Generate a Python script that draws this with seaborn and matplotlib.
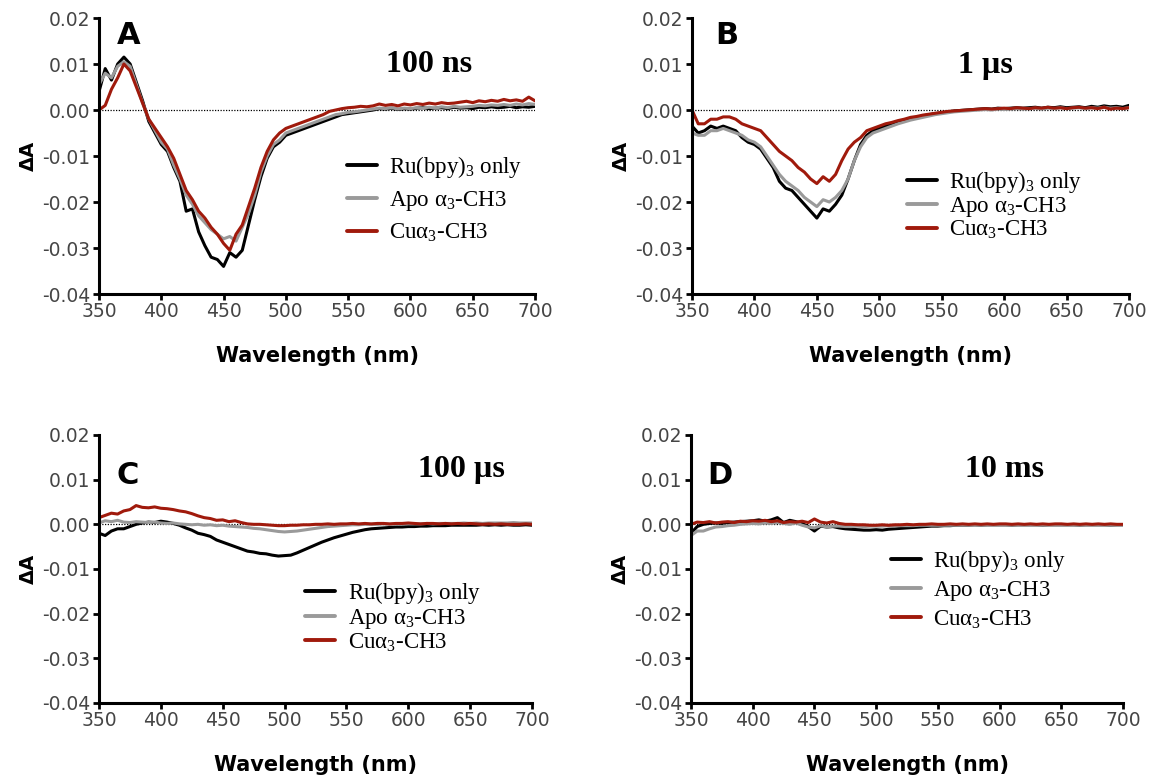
import numpy as np
import pandas as pd
import matplotlib
matplotlib.use("Agg")
import matplotlib.pyplot as plt
import seaborn as sns

# wavelengths (nm), 5 nm grid
wavelength = list(range(350, 701, 5))

# Delta A values, in units of 1e-3
# Panel A - 100 ns
ru_A = [4.0, 9.0, 6.5, 10.0, 11.5, 10.0, 6.0, 2.0, -2.5, -5.0, -7.5, -9.0, -12.5, -15.5, -22.0, -21.5,
        -26.5, -29.5, -32.0, -32.5, -34.0, -31.0, -32.0, -30.5, -25.0, -19.5, -14.5, -10.5, -8.0, -7.0,
        -5.5, -5.0, -4.5, -4.0, -3.5, -3.0, -2.5, -2.0, -1.5, -1.0, -0.8, -0.6, -0.4, -0.2, 0.0, 0.3,
        0.2, 0.4, 0.1, 0.3, 0.2, 0.4, 0.5, 0.3, 0.4, 0.5, 0.3, 0.6, 0.4, 0.5, 0.3, 0.6, 0.5, 0.7, 0.5,
        0.6, 0.8, 0.5, 0.7, 0.6, 0.8]
apo_A = [5.5, 8.0, 7.0, 9.5, 10.5, 9.5, 5.5, 1.5, -2.0, -4.5, -7.0, -8.5, -12.0, -15.0, -18.5, -20.5,
         -23.0, -24.5, -26.0, -27.0, -28.0, -27.5, -28.5, -25.5, -22.5, -18.5, -13.5, -10.0, -7.5, -6.5,
         -5.0, -4.5, -4.0, -3.5, -3.0, -2.5, -2.0, -1.5, -1.0, -0.8, -0.5, -0.4, -0.2, 0.0, 0.2, 0.4,
         0.3, 0.5, 0.2, 0.4, 0.3, 0.5, 0.4, 0.6, 0.4, 0.7, 0.5, 0.8, 0.6, 0.7, 0.8, 1.0, 0.9, 1.1, 1.0,
         1.2, 1.0, 1.3, 1.1, 1.4, 1.2]
cu_A = [0.0, 1.0, 4.5, 7.0, 10.0, 8.5, 5.0, 1.5, -2.0, -4.0, -6.0, -8.0, -10.5, -14.0, -17.5, -19.5,
        -22.0, -23.5, -25.5, -27.0, -29.0, -30.5, -27.0, -25.0, -21.0, -17.0, -12.5, -9.0, -6.5, -5.0,
        -4.0, -3.5, -3.0, -2.5, -2.0, -1.5, -1.0, -0.3, 0.0, 0.3, 0.5, 0.6, 0.8, 0.7, 0.9, 1.3,
        1.0, 1.2, 0.9, 1.3, 1.1, 1.4, 1.2, 1.5, 1.3, 1.6, 1.4, 1.5, 1.7, 1.9, 1.6, 2.0, 1.8, 2.1, 1.9,
        2.3, 2.0, 2.2, 1.9, 2.8, 2.0]

# Panel B - 1 us
ru_B = [-3.5, -5.0, -4.5, -3.5, -4.0, -3.5, -4.0, -4.5, -6.0, -7.0, -7.5, -8.5, -10.5, -12.5, -15.5, -17.0,
        -17.5, -19.0, -20.5, -22.0, -23.5, -21.5, -22.0, -20.5, -18.5, -15.0, -11.0, -7.5, -5.5, -4.5,
        -4.0, -3.5, -3.0, -2.6, -2.2, -1.9, -1.6, -1.3, -1.0, -0.8, -0.6, -0.4, -0.2, -0.1, 0.0, 0.1,
        0.2, 0.3, 0.2, 0.4, 0.3, 0.4, 0.5, 0.4, 0.5, 0.6, 0.4, 0.6, 0.5, 0.7, 0.5, 0.6, 0.7, 0.5, 0.8,
        0.6, 0.9, 0.7, 0.8, 0.6, 1.0]
apo_B = [-5.0, -5.5, -5.5, -4.5, -4.5, -4.0, -4.5, -5.0, -5.5, -6.5, -7.0, -8.0, -10.0, -12.0, -14.0, -15.5,
         -16.5, -17.5, -19.0, -20.0, -21.0, -19.5, -20.0, -19.0, -17.5, -15.0, -11.0, -8.0, -6.0, -5.0,
         -4.5, -4.0, -3.5, -3.0, -2.6, -2.2, -1.9, -1.6, -1.3, -1.0, -0.8, -0.6, -0.4, -0.3, -0.2, -0.1,
         0.0, 0.1, 0.0, 0.2, 0.1, 0.2, 0.3, 0.2, 0.3, 0.4, 0.2, 0.4, 0.3, 0.5, 0.3, 0.4, 0.5, 0.3, 0.5,
         0.4, 0.6, 0.4, 0.5, 0.3, 0.5]
cu_B = [0.0, -3.0, -3.0, -2.0, -2.0, -1.5, -1.5, -2.0, -3.0, -3.5, -4.0, -4.5, -6.0, -7.5, -9.0, -10.0,
        -11.0, -12.5, -13.5, -15.0, -16.0, -14.5, -15.5, -14.0, -11.0, -8.5, -7.0, -6.0, -4.5, -4.0,
        -3.5, -3.0, -2.7, -2.3, -2.0, -1.6, -1.4, -1.1, -0.9, -0.7, -0.5, -0.3, -0.2, -0.1, 0.0, 0.1,
        0.2, 0.3, 0.2, 0.3, 0.4, 0.3, 0.5, 0.4, 0.3, 0.5, 0.4, 0.6, 0.4, 0.5, 0.3, 0.5, 0.6, 0.4, 0.5,
        0.3, 0.6, 0.2, 0.4, 0.3, 0.5]

# Panel C - 100 us
ru_C = [-2.0, -2.5, -1.5, -1.0, -1.0, -0.5, 0.0, 0.3, 0.5, 0.4, 0.7, 0.5, 0.2, -0.2, -0.8, -1.3,
        -2.0, -2.3, -2.7, -3.5, -4.0, -4.5, -5.0, -5.5, -6.0, -6.2, -6.5, -6.6, -6.9, -7.1,
        -7.0, -6.9, -6.4, -5.8, -5.2, -4.6, -4.0, -3.5, -3.0, -2.6, -2.2, -1.8, -1.5, -1.2, -1.0, -0.9,
        -0.8, -0.7, -0.6, -0.6, -0.5, -0.5, -0.4, -0.4, -0.3, -0.3, -0.3, -0.2, -0.2, -0.2, -0.2, -0.2,
        -0.1, -0.2, -0.1, -0.2, -0.1, -0.2, -0.2, -0.1, -0.2]
apo_C = [0.3, 0.8, 0.6, 0.9, 0.5, 0.4, 0.6, 0.5, 0.4, 0.5, 0.3, 0.2, 0.3, 0.1, 0.0, -0.1,
         0.0, -0.2, -0.1, -0.3, -0.2, -0.4, -0.5, -0.6, -0.7, -0.9, -1.0, -1.2, -1.4, -1.6,
         -1.7, -1.6, -1.5, -1.3, -1.1, -0.9, -0.7, -0.5, -0.4, -0.3, -0.2, -0.1, -0.1, 0.0, 0.0, 0.0,
         0.1, 0.0, 0.1, 0.1, 0.1, 0.1, 0.1, 0.2, 0.1, 0.2, 0.2, 0.2, 0.2, 0.3, 0.2, 0.3, 0.2, 0.3, 0.3,
         0.3, 0.3, 0.4, 0.3, 0.3, 0.3]
cu_C = [1.5, 2.0, 2.5, 2.3, 3.0, 3.3, 4.2, 3.8, 3.7, 3.9, 3.6, 3.5, 3.3, 3.0, 2.8, 2.4,
        1.9, 1.5, 1.3, 0.9, 1.0, 0.6, 0.8, 0.4, 0.1, 0.0, 0.0, -0.1, -0.2, -0.3,
        -0.3, -0.2, -0.2, -0.1, -0.1, 0.0, 0.0, 0.1, 0.0, 0.1, 0.1, 0.2, 0.1, 0.2, 0.1, 0.2,
        0.2, 0.1, 0.2, 0.2, 0.3, 0.2, 0.1, 0.2, 0.2, 0.1, 0.2, 0.1, 0.2, 0.1, 0.2, 0.1, 0.0, 0.1, 0.0,
        0.1, 0.0, 0.0, 0.0, 0.1, 0.0]

# Panel D - 10 ms
ru_D = [-2.0, -0.5, 0.0, 0.2, 0.3, 0.2, 0.4, 0.5, 0.6, 0.7, 0.8, 1.0, 0.7, 1.0, 1.5, 0.4,
        0.9, 0.6, 0.2, -0.5, -1.5, -0.4, -0.6, -0.5, -0.8, -1.0, -1.1, -1.2, -1.3, -1.3,
        -1.2, -1.3, -1.1, -1.0, -0.9, -0.8, -0.7, -0.6, -0.5, -0.4, -0.4, -0.3, -0.3, -0.2, -0.2, -0.2,
        -0.1, -0.2, -0.1, -0.1, -0.1, -0.1, -0.2, -0.1, -0.1, -0.1, -0.1, -0.2, -0.1, -0.1, -0.1, -0.1,
        -0.1, -0.2, -0.1, -0.1, -0.1, -0.1, -0.2, -0.1, -0.1]
apo_D = [-2.5, -1.5, -1.5, -1.0, -0.6, -0.5, -0.3, -0.2, 0.0, 0.1, 0.2, 0.1, 0.3, 0.2, 0.4, 0.2,
         0.0, 0.3, -0.2, -0.6, -0.8, -0.3, -0.6, -0.4, -0.4, -0.5, -0.5, -0.4, -0.5, -0.4,
         -0.4, -0.4, -0.3, -0.4, -0.3, -0.3, -0.3, -0.2, -0.2, -0.2, -0.2, -0.2, -0.2, -0.2, -0.2, -0.2,
         -0.2, -0.2, -0.2, -0.2, -0.2, -0.2, -0.2, -0.2, -0.2, -0.2, -0.2, -0.2, -0.2, -0.2, -0.2, -0.2,
         -0.2, -0.2, -0.2, -0.2, -0.2, -0.2, -0.2, -0.2, -0.2]
cu_D = [0.0, 0.5, 0.4, 0.6, 0.3, 0.5, 0.6, 0.4, 0.7, 0.6, 0.8, 0.7, 0.9, 0.6, 0.8, 0.4,
        0.6, 0.5, 0.7, 0.4, 1.2, 0.5, 0.3, 0.6, 0.2, 0.0, 0.0, -0.1, -0.1, -0.2,
        -0.2, -0.1, -0.2, -0.1, -0.1, 0.0, -0.1, 0.0, 0.0, 0.1, 0.0, 0.0, 0.1, 0.0, 0.1, 0.0,
        0.1, 0.0, 0.1, 0.0, 0.1, 0.1, 0.0, 0.1, 0.0, 0.1, 0.0, 0.1, 0.0, 0.1, 0.1, 0.0, 0.1, 0.0, 0.1,
        0.0, 0.1, 0.0, 0.1, 0.0, 0.0]

series_names = ["Ru(bpy)$_3$ only", "Apo \u03b1$_3$-CH3", "Cu\u03b1$_3$-CH3"]
series_colors = ["#000000", "#9a9a9a", "#a01a0c"]
panel_letters = ["A", "B", "C", "D"]
panel_times = ["100 ns", "1 \u00b5s", "100 \u00b5s", "10 ms"]
panel_data = [(ru_A, apo_A, cu_A), (ru_B, apo_B, cu_B), (ru_C, apo_C, cu_C), (ru_D, apo_D, cu_D)]

sns.set_style("ticks")
plt.rcParams["font.family"] = ["DejaVu Sans"]
plt.rcParams["axes.unicode_minus"] = False
plt.rcParams["mathtext.fontset"] = "custom"
plt.rcParams["mathtext.rm"] = "Liberation Serif"
plt.rcParams["mathtext.it"] = "Liberation Serif:italic"
plt.rcParams["mathtext.bf"] = "Liberation Serif:bold"

fig = plt.figure(figsize=(11.49, 7.78), dpi=100)

# axes boxes in figure fraction [left, bottom, width, height]
boxes = [
    [99 / 1149, 1 - 294 / 778, 436 / 1149, 276 / 778],
    [692 / 1149, 1 - 294 / 778, 437 / 1149, 276 / 778],
    [99 / 1149, 1 - 703 / 778, 433 / 1149, 268 / 778],
    [691 / 1149, 1 - 703 / 778, 432 / 1149, 268 / 778],
]
letter_pos = [(0.067, 0.935), (0.08, 0.935), (0.067, 0.85), (0.067, 0.85)]
time_pos = [(615, 0.0100), (585, 0.0096), (643, 0.0122), (604, 0.0122)]
legend_pos = [(0.569, 0.344), (0.492, 0.322), (0.476, 0.321), (0.463, 0.425)]
legend_spacing = [0.38, 0.0, 0.02, 0.23]

for i in range(4):
    ax = fig.add_axes(boxes[i])
    ax.axhline(0, color="black", linestyle=(0, (1, 1.2)), linewidth=0.9, zorder=1)
    for name, color, vals in zip(series_names, series_colors, panel_data[i]):
        df = pd.DataFrame({"wavelength": wavelength, "dA": np.array(vals) / 1000.0})
        sns.lineplot(data=df, x="wavelength", y="dA", color=color, linewidth=2.2,
                     label=name, ax=ax, zorder=2)

    ax.set_xlim(350, 700)
    ax.set_ylim(-0.04, 0.02)
    ax.set_xticks(range(350, 701, 50))
    ax.set_yticks([-0.04, -0.03, -0.02, -0.01, 0.0, 0.01, 0.02])
    ax.set_yticklabels(["-0.04", "-0.03", "-0.02", "-0.01", "0.00", "0.01", "0.02"])
    sns.despine(ax=ax)
    for sp in ["left", "bottom"]:
        ax.spines[sp].set_linewidth(2.2)
        ax.spines[sp].set_color("black")
    ax.tick_params(direction="out", length=4.5, width=2.0, labelsize=13.5,
                   labelcolor="#454545", color="black", pad=1.5)
    ax.set_xlabel("Wavelength (nm)", fontsize=15, fontweight="bold", color="black", labelpad=18)
    ax.set_ylabel("\u0394A", fontsize=14, fontweight="bold", color="black", labelpad=3)

    ax.text(letter_pos[i][0], letter_pos[i][1], panel_letters[i], transform=ax.transAxes,
            fontsize=22, fontweight="bold", color="black", ha="center", va="center")
    ax.text(time_pos[i][0], time_pos[i][1], panel_times[i], fontsize=23, fontweight="bold",
            family=["Liberation Serif"], color="black", ha="center", va="center")

    leg = ax.legend(loc="center left", bbox_to_anchor=legend_pos[i], frameon=False,
                    prop={"family": "Liberation Serif", "size": 16.5}, handlelength=1.3,
                    handletextpad=0.55, borderpad=0, borderaxespad=0,
                    labelspacing=legend_spacing[i])
    for line in leg.get_lines():
        line.set_linewidth(2.8)
    for t in leg.get_texts():
        t.set_color("black")

fig.savefig("out.png", dpi=100)
